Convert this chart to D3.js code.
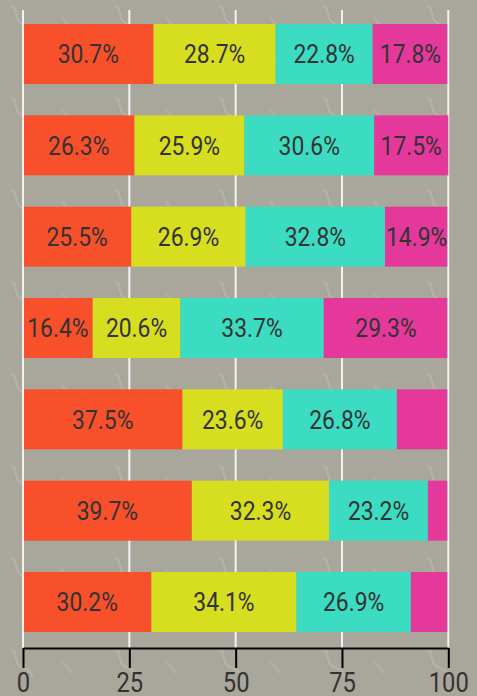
<!DOCTYPE html>
<html lang="en">
    <head>
        <meta charset="utf-8">
        <title>Stacked bars</title>
        <script type="text/javascript" src="https://cdn.jsdelivr.net/npm/d3@7"></script>
        <style>
            body { margin: 0; background: #a9a69b; }
            svg { display: block; }
        </style>
    </head>

    <body>
        <script type="text/javascript">

            // data (percent of each row)
            var rows = ["r1", "r2", "r3", "r4", "r5", "r6", "r7"];
            var seriesKeys = ["s1", "s2", "s3", "s4"];
            var s1 = [30.7, 26.3, 25.5, 16.4, 37.5, 39.7, 30.2];
            var s2 = [28.7, 25.9, 26.9, 20.6, 23.6, 32.3, 34.1];
            var s3 = [22.8, 30.6, 32.8, 33.7, 26.8, 23.2, 26.9];
            var s4 = [17.8, 17.5, 14.9, 29.3, 12.1, 4.8, 8.8];
            var tickLabels = [0, 25, 50, 75, 100];
            var colors = ["#f7502b", "#d7de1f", "#3cdcc2", "#e4399b"];

            var w = 477;
            var h = 696;

            var table = rows.map(function(r, i) {
                return {row: r, s1: s1[i], s2: s2[i], s3: s3[i], s4: s4[i]};
            });

            var stacked = d3.stack().keys(seriesKeys).offset(d3.stackOffsetExpand)(table);

            var x = d3.scaleLinear().domain([0, 1]).range([23, 448.3]);
            var y = d3.scaleBand().domain(rows).range([24, 632]).paddingInner(0.343).paddingOuter(0);
            var color = d3.scaleOrdinal().domain(seriesKeys).range(colors);

            var svg = d3.select("body").append("svg").attr("width", w).attr("height", h);

            // faint wavy background texture
            var defs = svg.append("defs");
            var pat = defs.append("pattern")
                            .attr("id", "waves")
                            .attr("patternUnits", "userSpaceOnUse")
                            .attr("width", 104)
                            .attr("height", 92);
            pat.append("rect").attr("width", 104).attr("height", 92).attr("fill", "#a9a69b");
            pat.append("path")
                .attr("d", "M12,6 c6,4 2,12 8,16 s10,2 12,10")
                .attr("fill", "none")
                .attr("stroke", "#b4b1a6")
                .attr("stroke-width", 2.5)
                .attr("stroke-linecap", "round");
            pat.append("path")
                .attr("d", "M62,18 l10,11")
                .attr("fill", "none")
                .attr("stroke", "#b2afa4")
                .attr("stroke-width", 2.5)
                .attr("stroke-linecap", "round");
            pat.append("path")
                .attr("d", "M64,52 c6,4 2,12 8,16 s10,2 12,10")
                .attr("fill", "none")
                .attr("stroke", "#b2afa4")
                .attr("stroke-width", 2.5)
                .attr("stroke-linecap", "round");
            svg.append("rect").attr("width", w).attr("height", h).attr("fill", "url(#waves)");

            // vertical gridlines
            svg.append("g")
                .selectAll("line")
                .data(tickLabels)
                .enter()
                .append("line")
                .attr("x1", function(d) {return x(d / 100);})
                .attr("x2", function(d) {return x(d / 100);})
                .attr("y1", 10)
                .attr("y2", 648)
                .attr("stroke", "#f2f2f2")
                .attr("stroke-width", 2);

            var groups = svg.append("g")
                .selectAll("g")
                .data(stacked)
                .enter()
                .append("g")
                .attr("fill", function(d) {return color(d.key);});

            groups.selectAll("rect")
                .data(function(d) {return d;})
                .enter()
                .append("rect")
                .attr("x", function(d) {return x(d[0]) + (d[0] <= 0 ? 1 : 0);})
                .attr("y", function(d) {return y(d.data.row);})
                .attr("width", function(d) {return x(d[1]) - x(d[0]) - (d[0] <= 0 ? 1 : 0) - (d[1] >= 1 ? 1 : 0);})
                .attr("height", y.bandwidth());

            // labels, skipped where the segment is too narrow
            var labels = [];
            stacked.forEach(function(s) {
                s.forEach(function(d) {
                    var v = d.data[s.key];
                    if (v >= 13) {
                        labels.push({cx: (x(d[0]) + x(d[1])) / 2, cy: y(d.data.row) + y.bandwidth() / 2, v: v});
                    }
                });
            });

            svg.append("g")
                .selectAll("text")
                .data(labels)
                .enter()
                .append("text")
                .attr("transform", function(d) {return "translate(" + d.cx + "," + d.cy + ") scale(0.88,1)";})
                .attr("text-anchor", "middle")
                .attr("dy", "0.36em")
                .attr("font-family", "Roboto, sans-serif")
                .attr("font-size", 26)
                .attr("fill", "#333")
                .text(function(d) {return d.v.toFixed(1) + "%";});

            // bottom axis
            var axis = d3.axisBottom(x)
                .tickValues(tickLabels.map(function(d) {return d / 100;}))
                .tickFormat(function(d) {return Math.round(d * 100);})
                .tickSize(20)
                .tickPadding(5)
                .tickSizeOuter(0);

            var gx = svg.append("g").attr("transform", "translate(0,648)").call(axis);
            gx.select(".domain").attr("stroke", "#000").attr("stroke-width", 2);
            gx.selectAll(".tick line").attr("stroke", "#000").attr("stroke-width", 2);
            gx.selectAll(".tick text")
                .attr("font-family", "Roboto, sans-serif")
                .attr("font-size", 27)
                .attr("fill", "#333")
                .attr("transform", "scale(0.88,1)");

        </script>
    </body>
</html>
